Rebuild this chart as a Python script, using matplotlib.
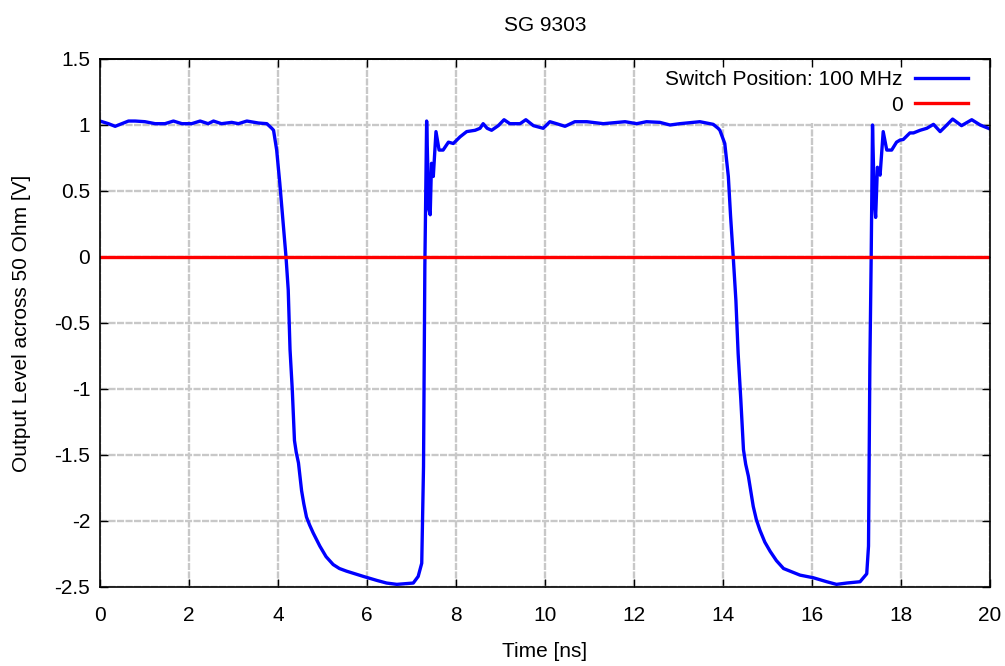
import matplotlib
matplotlib.use('Agg')
import matplotlib.pyplot as plt

time_ns = [0.0, 0.19, 0.34, 0.49, 0.64, 0.79, 1.01, 1.24, 1.46, 1.65, 1.84, 2.06,
           2.25, 2.43, 2.55, 2.73, 2.96, 3.11, 3.30, 3.56, 3.75, 3.86, 3.90, 3.97,
           4.04, 4.08, 4.12, 4.18, 4.23, 4.27, 4.32, 4.37, 4.41, 4.46, 4.53, 4.58,
           4.64, 4.71, 4.79, 4.94, 5.08, 5.24, 5.38, 5.54, 5.92, 6.22, 6.44, 6.67,
           7.04, 7.15, 7.23, 7.27, 7.30, 7.34,
           7.39, 7.42, 7.45, 7.49, 7.55, 7.62, 7.71, 7.83, 7.94, 8.09, 8.24, 8.43,
           8.54, 8.61, 8.70, 8.80, 8.95, 9.08, 9.21, 9.44, 9.57, 9.74, 9.96, 10.11,
           10.26, 10.45, 10.67, 10.94, 11.31, 11.80, 12.06, 12.28, 12.58, 12.81, 13.03,
           13.48, 13.78, 13.89, 13.93, 14.04, 14.12, 14.17, 14.23, 14.29, 14.34, 14.40,
           14.46, 14.51, 14.57, 14.68, 14.75, 14.83, 14.94, 15.06, 15.20, 15.36, 15.73,
           16.03, 16.33, 16.55, 16.78,
           17.08, 17.23, 17.27, 17.30, 17.33, 17.36, 17.40, 17.43, 17.47, 17.53, 17.60,
           17.68, 17.79, 17.90, 17.98, 18.05, 18.20, 18.28, 18.43, 18.58, 18.73, 18.88,
           19.03, 19.16, 19.36, 19.59, 19.78, 19.96, 20.0]
level_v = [1.03, 1.01, 0.99, 1.01, 1.03, 1.03, 1.025, 1.01, 1.01, 1.03, 1.01, 1.01,
           1.03, 1.01, 1.03, 1.01, 1.02, 1.01, 1.03, 1.015, 1.01, 0.975, 0.96, 0.81,
           0.56, 0.40, 0.23, 0.0, -0.25, -0.70, -1.0, -1.39, -1.48, -1.56, -1.77, -1.87,
           -1.97, -2.03, -2.09, -2.19, -2.27, -2.33, -2.36, -2.38, -2.42, -2.45, -2.47, -2.48,
           -2.47, -2.42, -2.32, -1.59, -0.07, 1.03,
           0.36, 0.32, 0.71, 0.61, 0.95, 0.81, 0.81, 0.87, 0.86, 0.91, 0.95, 0.96,
           0.975, 1.01, 0.975, 0.96, 0.995, 1.04, 1.01, 1.01, 1.04, 0.995, 0.975, 1.025,
           1.01, 0.99, 1.025, 1.025, 1.01, 1.025, 1.01, 1.025, 1.02, 1.0, 1.01,
           1.025, 1.005, 0.975, 0.96, 0.86, 0.61, 0.31, 0.0, -0.33, -0.73, -1.08,
           -1.46, -1.57, -1.66, -1.89, -1.99, -2.07, -2.16, -2.23, -2.30, -2.36, -2.41,
           -2.43, -2.46, -2.48, -2.47,
           -2.46, -2.40, -2.19, -0.83, 0.0, 1.0, 0.43, 0.30, 0.68, 0.62, 0.95,
           0.81, 0.81, 0.87, 0.886, 0.89, 0.94, 0.94, 0.96, 0.975, 1.005, 0.95,
           1.0, 1.045, 0.995, 1.04, 1.0, 0.975, 0.97]

zero_t = [0, 20]
zero_v = [0, 0]

x_ticks = [0, 2, 4, 6, 8, 10, 12, 14, 16, 18, 20]
y_ticks = [-2.5, -2, -1.5, -1, -0.5, 0, 0.5, 1, 1.5]
y_labels = ['-2.5', '-2', '-1.5', '-1', '-0.5', '0', '0.5', '1', '1.5']

plt.rcParams['font.family'] = ['Liberation Sans', 'DejaVu Sans']
plt.rcParams['font.size'] = 15

fig = plt.figure(figsize=(10.05, 6.66), dpi=100)
ax = fig.add_axes([100 / 1005, 79 / 666, 890 / 1005, 528 / 666])

ax.plot(time_ns, level_v, color='#0000ff', linewidth=2.4, label='Switch Position: 100 MHz', zorder=3)
ax.plot(zero_t, zero_v, color='#ff0000', linewidth=2.4, label='0', zorder=3)

ax.set_xlim(0, 20)
ax.set_ylim(-2.5, 1.5)
ax.set_xticks(x_ticks)
ax.set_xticklabels([str(t) for t in x_ticks])
ax.set_yticks(y_ticks)
ax.set_yticklabels(y_labels)

ax.grid(True, color='#c8c8c8', linewidth=1.7, linestyle=(0, (3, 0.6)))
ax.set_axisbelow(True)

ax.tick_params(direction='in', length=6, width=1, top=False, right=True, labelsize=15)
ax.tick_params(axis='x', pad=14)
ax.tick_params(axis='y', pad=7)
for s in ax.spines.values():
    s.set_linewidth(1.2)
    s.set_zorder(4)

# top ticks on their own axis so the key box does not hide them
top = ax.secondary_xaxis('top')
top.set_xticks(x_ticks)
top.tick_params(direction='in', length=6, width=1, labeltop=False)
top.spines['top'].set_linewidth(1.2)
top.set_zorder(6)

ax.set_title('SG 9303', fontsize=15, pad=20)
ax.set_xlabel('Time [ns]', fontsize=15, labelpad=12)
ax.set_ylabel('Output Level across 50 Ohm [V]', fontsize=15, labelpad=17)

leg = ax.legend(loc='upper right', bbox_to_anchor=(0.985, 0.995), markerfirst=False,
                frameon=True, fancybox=False, edgecolor='none', facecolor='white',
                framealpha=1.0, handlelength=2.55, handletextpad=0.6,
                labelspacing=0.32, borderaxespad=0.0, borderpad=0.4, fontsize=15)
leg.set_zorder(1)

fig.savefig('out.png', dpi=100)
